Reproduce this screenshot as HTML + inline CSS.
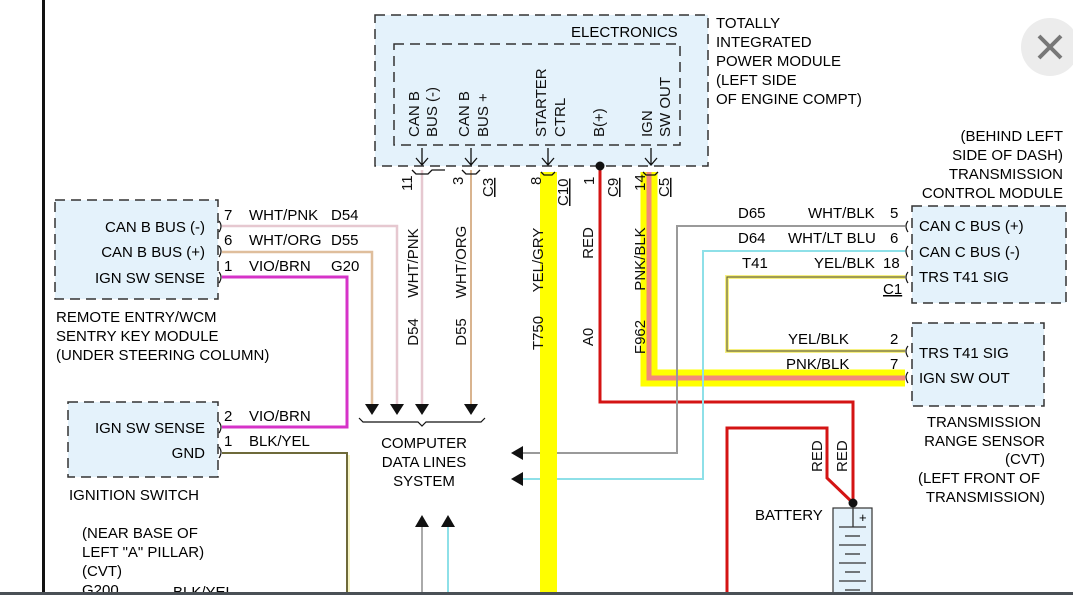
<!DOCTYPE html>
<html><head><meta charset="utf-8"><style>
html,body{margin:0;padding:0;background:#fff;}
svg{display:block;font-family:"Liberation Sans",Arial,sans-serif;font-size:15px;}
</style></head><body>
<svg width="1073" height="595" viewBox="0 0 1073 595" xmlns="http://www.w3.org/2000/svg">
<rect width="1073" height="595" fill="#fff"/>
<rect x="42" y="0" width="3" height="595" fill="#111"/>
<circle cx="1050" cy="47" r="29" fill="#ececec"/>
<path d="M1039 36 L1061 58 M1061 36 L1039 58" stroke="#777" stroke-width="4"/>

<rect x="375" y="15" width="333" height="151" fill="#e4f2fb" stroke="#333" stroke-width="1.5" stroke-dasharray="10,6"/>
<rect x="394" y="44" width="286" height="101" fill="none" stroke="#333" stroke-width="1.5" stroke-dasharray="10,6"/>
<text x="571" y="37">ELECTRONICS</text>
<g fill="#111">
<text transform="translate(419,137) rotate(-90)">CAN B</text>
<text transform="translate(437,137) rotate(-90)">BUS (-)</text>
<text transform="translate(469,137) rotate(-90)">CAN B</text>
<text transform="translate(488,137) rotate(-90)">BUS +</text>
<text transform="translate(546,137) rotate(-90)">STARTER</text>
<text transform="translate(565,137) rotate(-90)">CTRL</text>
<text transform="translate(604,137) rotate(-90)">B(+)</text>
<text transform="translate(652,137) rotate(-90)">IGN</text>
<text transform="translate(670,137) rotate(-90)">SW OUT</text>
</g>
<text x="716" y="28">TOTALLY</text>
<text x="716" y="47">INTEGRATED</text>
<text x="716" y="66">POWER MODULE</text>
<text x="716" y="85">(LEFT SIDE</text>
<text x="716" y="104">OF ENGINE COMPT)</text>

<rect x="540" y="172" width="17" height="423" fill="#ffff00"/>
<path d="M422 170 V405" stroke="#e6c8d0" stroke-width="2.5"/>
<path d="M471 170 V405" stroke="#d9b48f" stroke-width="2"/>
<path d="M649 172 V378 H905" stroke="#ffff00" stroke-width="17" fill="none"/>
<path d="M649 172 V378 H905" stroke="#f2897a" stroke-width="5" fill="none"/>
<path d="M600 166 V402 H853 V503" stroke="#d41414" stroke-width="3" fill="none"/>
<path d="M727 595 V428 H827 V478 L853 503" stroke="#d41414" stroke-width="3" fill="none"/>
<circle cx="600" cy="166" r="4.5" fill="#111"/>
<circle cx="853" cy="503" r="4.5" fill="#111"/>

<g stroke="#111" stroke-width="1.3" fill="none">
<path d="M422 148 V165 M416 158 L422 165 L428 158"/>
<path d="M471 148 V165 M465 158 L471 165 L477 158"/>
<path d="M548 148 V165 M542 158 L548 165 L554 158"/>
<path d="M651 148 V165 M645 158 L651 165 L657 158"/>
<path d="M412 170 L416 174 H428 L432 170 L445 170"/>
<path d="M462 170 L466 174 H476 L480 170"/>
<path d="M541 172 L544 175 H552 L555 172"/>
<path d="M643 172 L646 175 H655 L658 172"/>
</g>
<g fill="#111">
<text transform="translate(412,191) rotate(-90)">11</text>
<text transform="translate(463,185) rotate(-90)">3</text>
<text transform="translate(541,185) rotate(-90)">8</text>
<text transform="translate(594,185) rotate(-90)">1</text>
<text transform="translate(645,191) rotate(-90)">14</text>
<text transform="translate(493,197) rotate(-90)" text-decoration="underline">C3</text>
<text transform="translate(568,206) rotate(-90)" text-decoration="underline">C10</text>
<text transform="translate(618,197) rotate(-90)" text-decoration="underline">C9</text>
<text transform="translate(669,197) rotate(-90)" text-decoration="underline">C5</text>
<text transform="translate(418,263) rotate(-90)" text-anchor="middle">WHT/PNK</text>
<text transform="translate(466,262) rotate(-90)" text-anchor="middle">WHT/ORG</text>
<text transform="translate(543,260) rotate(-90)" text-anchor="middle">YEL/GRY</text>
<text transform="translate(593,243) rotate(-90)" text-anchor="middle">RED</text>
<text transform="translate(645,259) rotate(-90)" text-anchor="middle">PNK/BLK</text>
<text transform="translate(418,332) rotate(-90)" text-anchor="middle">D54</text>
<text transform="translate(466,332) rotate(-90)" text-anchor="middle">D55</text>
<text transform="translate(543,333) rotate(-90)" text-anchor="middle">T750</text>
<text transform="translate(593,337) rotate(-90)" text-anchor="middle">A0</text>
<text transform="translate(645,337) rotate(-90)" text-anchor="middle">F962</text>
</g>

<rect x="55" y="200" width="163" height="99" fill="#e4f2fb" stroke="#333" stroke-width="1.5" stroke-dasharray="10,6"/>
<g text-anchor="end"><text x="205" y="232">CAN B BUS (-)</text><text x="205" y="257">CAN B BUS (+)</text><text x="205" y="283">IGN SW SENSE</text></g>
<text x="56" y="322">REMOTE ENTRY/WCM</text>
<text x="56" y="341">SENTRY KEY MODULE</text>
<text x="56" y="360">(UNDER STEERING COLUMN)</text>
<path d="M222 226 H397 V405" stroke="#e6c8d0" stroke-width="2.5" fill="none"/>
<path d="M222 252 H372 V405" stroke="#dfbe9c" stroke-width="2.5" fill="none"/>
<path d="M222 277 H347 V427 H222" stroke="#d633c8" stroke-width="3" fill="none"/>
<path d="M222 453 H347 V595" stroke="#6e6a3a" stroke-width="2" fill="none"/>
<path d="M349 455 V595" stroke="#f4f0b0" stroke-width="1.5"/>
<g fill="none" stroke="#111" stroke-width="1.2">
<path d="M219 221 q4 5 0 11"/><path d="M219 246 q4 5 0 11"/><path d="M219 272 q4 5 0 11"/>
<path d="M219 422 q4 5 0 11"/><path d="M219 447 q4 5 0 11"/>
</g>
<text x="224" y="220">7</text><text x="249" y="220">WHT/PNK</text><text x="331" y="220">D54</text>
<text x="224" y="245">6</text><text x="249" y="245">WHT/ORG</text><text x="331" y="245">D55</text>
<text x="224" y="271">1</text><text x="249" y="271">VIO/BRN</text><text x="331" y="271">G20</text>

<rect x="68" y="402" width="150" height="75" fill="#e4f2fb" stroke="#333" stroke-width="1.5" stroke-dasharray="10,6"/>
<g text-anchor="end"><text x="205" y="433">IGN SW SENSE</text><text x="205" y="458">GND</text></g>
<text x="224" y="421">2</text><text x="249" y="421">VIO/BRN</text>
<text x="224" y="446">1</text><text x="249" y="446">BLK/YEL</text>
<text x="69" y="500">IGNITION SWITCH</text>
<text x="82" y="538">(NEAR BASE OF</text>
<text x="82" y="557">LEFT "A" PILLAR)</text>
<text x="82" y="576">(CVT)</text>
<text x="82" y="595">G200</text>
<text x="173" y="597">BLK/YEL</text>

<g fill="#111">
<path d="M365 404 h14 l-7 11z"/><path d="M390 404 h14 l-7 11z"/><path d="M415 404 h14 l-7 11z"/><path d="M464 404 h14 l-7 11z"/>
<path d="M415 527 h14 l-7 -12z"/><path d="M441 527 h14 l-7 -12z"/>
<path d="M523 446 v14 l-12 -7z"/><path d="M523 472 v14 l-12 -7z"/>
</g>
<path d="M359 418 L363 422 H418 L422 426 L426 422 H481 L485 418" stroke="#111" stroke-width="1.2" fill="none"/>
<g text-anchor="middle"><text x="424" y="448">COMPUTER</text><text x="424" y="467">DATA LINES</text><text x="424" y="486">SYSTEM</text></g>
<path d="M422 527 V595" stroke="#aaa" stroke-width="2"/>
<path d="M448 527 V595" stroke="#8ee0e8" stroke-width="2"/>

<path d="M905 226 H677 V453 H523" stroke="#9a9a9a" stroke-width="2" fill="none"/>
<path d="M905 251 H703 V479 H523" stroke="#8ee0e8" stroke-width="2" fill="none"/>
<path d="M905 277 H727 V351 H905" stroke="#f6f080" stroke-width="4" fill="none"/>
<path d="M905 277 H727 V351 H905" stroke="#6e6a3a" stroke-width="1.2" fill="none"/>
<rect x="540" y="440" width="17" height="50" fill="#ffff00"/>
<g fill="none" stroke="#111" stroke-width="1.2">
<path d="M908 221 q-4 5 0 11"/><path d="M908 246 q-4 5 0 11"/><path d="M908 272 q-4 5 0 11"/>
<path d="M908 346 q-4 5 0 11"/><path d="M908 372 q-4 5 0 11"/>
</g>
<text x="738" y="218">D65</text><text x="808" y="218">WHT/BLK</text><text x="890" y="218">5</text>
<text x="738" y="243">D64</text><text x="788" y="243">WHT/LT BLU</text><text x="890" y="243">6</text>
<text x="742" y="268">T41</text><text x="814" y="268">YEL/BLK</text><text x="883" y="268">18</text>
<text x="883" y="294" text-decoration="underline">C1</text>
<text x="788" y="344">YEL/BLK</text><text x="890" y="344">2</text>
<text x="786" y="369">PNK/BLK</text><text x="890" y="369">7</text>

<rect x="912" y="206" width="154" height="97" fill="#e4f2fb" stroke="#333" stroke-width="1.5" stroke-dasharray="10,6"/>
<text x="919" y="231">CAN C BUS (+)</text><text x="919" y="257">CAN C BUS (-)</text><text x="919" y="282">TRS T41 SIG</text>
<g text-anchor="end"><text x="1063" y="141">(BEHIND LEFT</text><text x="1063" y="160">SIDE OF DASH)</text><text x="1063" y="179">TRANSMISSION</text><text x="1063" y="198">CONTROL MODULE</text></g>

<rect x="912" y="323" width="132" height="83" fill="#e4f2fb" stroke="#333" stroke-width="1.5" stroke-dasharray="10,6"/>
<text x="919" y="358">TRS T41 SIG</text><text x="919" y="383">IGN SW OUT</text>
<g text-anchor="end"><text x="1041" y="427">TRANSMISSION</text><text x="1045" y="446">RANGE SENSOR</text><text x="1045" y="464">(CVT)</text><text x="1040" y="483">(LEFT FRONT OF</text><text x="1045" y="502">TRANSMISSION)</text></g>

<g fill="#111"><text transform="translate(822,472) rotate(-90)">RED</text><text transform="translate(847,472) rotate(-90)">RED</text></g>
<text x="755" y="520">BATTERY</text>
<rect x="833" y="508" width="39" height="90" fill="#e4f2fb" stroke="#333" stroke-width="1.2"/>
<text x="859" y="522" font-size="13">+</text>
<g stroke="#333" stroke-width="1.3">
<path d="M853 508 V527"/><path d="M839 527 H866"/><path d="M845 536 H860"/><path d="M839 545 H866"/><path d="M845 554 H860"/><path d="M839 563 H866"/><path d="M845 572 H860"/><path d="M839 581 H866"/><path d="M845 590 H860"/>
</g>

<rect x="0" y="592" width="1073" height="3" fill="#4a5056"/>
</svg>
</body></html>
